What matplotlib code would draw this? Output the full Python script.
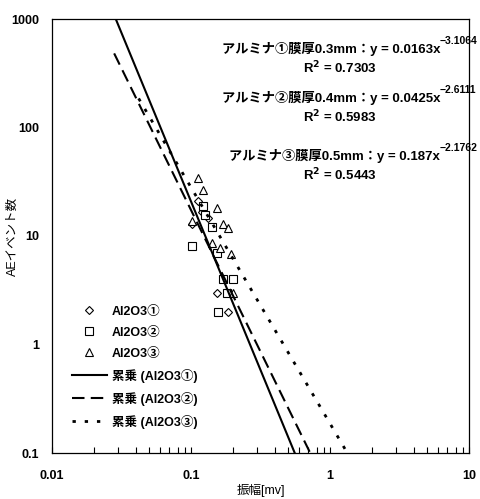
import numpy as np
import matplotlib
matplotlib.use("Agg")
from matplotlib import pyplot as plt

# dados (amplitude mV, numero de eventos AE)
x_al1 = [0.113, 0.119, 0.101, 0.133, 0.153, 0.184]
y_al1 = [21, 16.7, 12.8, 14.6, 3, 2]

x_al2 = [0.121, 0.126, 0.141, 0.101, 0.155, 0.171, 0.200, 0.181, 0.157]
y_al2 = [19, 15.6, 12.2, 8.1, 6.9, 4, 4, 3, 2]

x_al3 = [0.113, 0.123, 0.153, 0.101, 0.171, 0.186, 0.142, 0.162, 0.193, 0.202]
y_al3 = [34, 26.5, 18, 13.7, 12.8, 11.8, 8.6, 7.8, 6.8, 3]

# coeficientes das curvas de potencia y = a*x^b
coef_a = [0.0163, 0.0425, 0.187]
coef_b = [-3.1064, -2.6111, -2.1762]
r2 = [0.7303, 0.5983, 0.5443]
x_ini = [0.0285, 0.028, 0.042]
x_fim = [0.56, 0.73, 1.34]

serie_nomes = ["Al2O3\u2460", "Al2O3\u2461", "Al2O3\u2462"]
filme = ["0.3mm", "0.4mm", "0.5mm"]
circ = ["\u2460", "\u2461", "\u2462"]

FONTE = ["Liberation Sans", "Noto Sans CJK JP", "DejaVu Sans"]


def main():
	plt.rcParams["font.family"] = FONTE
	plt.rcParams["font.weight"] = "bold"
	fig = plt.figure(figsize=(4.8, 4.99), dpi=100)
	ax = fig.add_axes([52 / 480, 46 / 499, 417 / 480, 434 / 499])
	ax.set_xscale("log")
	ax.set_yscale("log")
	ax.set_xlim(0.01, 10)
	ax.set_ylim(0.1, 1000)

	mk = dict(mfc="white", mec="black", mew=0.8, ls="none")
	ax.plot(x_al1, y_al1, marker="D", ms=4, label=serie_nomes[0], **mk)
	ax.plot(x_al2, y_al2, marker="s", ms=5.5, label=serie_nomes[1], **mk)
	ax.plot(x_al3, y_al3, marker="^", ms=5.5, label=serie_nomes[2], **mk)

	estilos = ["-", (0, (6, 3)), (0, (1.2, 3.2))]
	larg = [1.5, 1.5, 2.0]
	for i in range(3):
		xs = np.logspace(np.log10(x_ini[i]), np.log10(x_fim[i]), 100)
		ys = coef_a[i] * xs ** coef_b[i]
		ax.plot(xs, ys, color="black", ls=estilos[i], lw=larg[i],
			label="累乗 (" + serie_nomes[i] + ")")

	ax.set_xticks([0.01, 0.1, 1, 10])
	ax.set_xticklabels(["0.01", "0.1", "1", "10"])
	ax.set_yticks([0.1, 1, 10, 100, 1000])
	ax.set_yticklabels(["0.1", "1", "10", "100", "1000"])
	ax.tick_params(axis="x", which="both", direction="in", length=4, width=0.8,
		labelsize=9, pad=12)
	ax.tick_params(axis="y", which="both", length=0, labelsize=9, pad=9)
	ax.yaxis.set_minor_locator(matplotlib.ticker.NullLocator())
	for s in ax.spines.values():
		s.set_linewidth(0.9)

	ax.set_xlabel("振幅[mv]", fontsize=9, labelpad=2)
	ax.set_ylabel("AEイベント数", fontsize=9)
	ax.yaxis.set_label_coords(-0.08, 0.5)

	leg = ax.legend(loc="lower left", bbox_to_anchor=(0.02, 0.03), frameon=False,
		fontsize=9, handlelength=2.8, labelspacing=0.72, handletextpad=0.4)

	# textos das equacoes
	ys_txt = [49, 98, 156]
	for i in range(3):
		yf = 1 - ys_txt[i] / 499
		t = fig.text(440 / 480, yf, "アルミナ" + circ[i] + "膜厚" + filme[i]
			+ "：y = " + str(coef_a[i]) + "x", ha="right", va="center", fontsize=9.5)
		ax.annotate(("%.4f" % coef_b[i]).replace("-", "\u2212"), xy=(1, 0.7),
			xycoords=t, va="bottom", ha="left", fontsize=7.5)
		fig.text(340 / 480, yf - 19 / 499, "R$^2$ = " + "%.4f" % r2[i],
			ha="center", va="center", fontsize=9.5)

	plt.savefig("out.png", dpi=100)


main()
